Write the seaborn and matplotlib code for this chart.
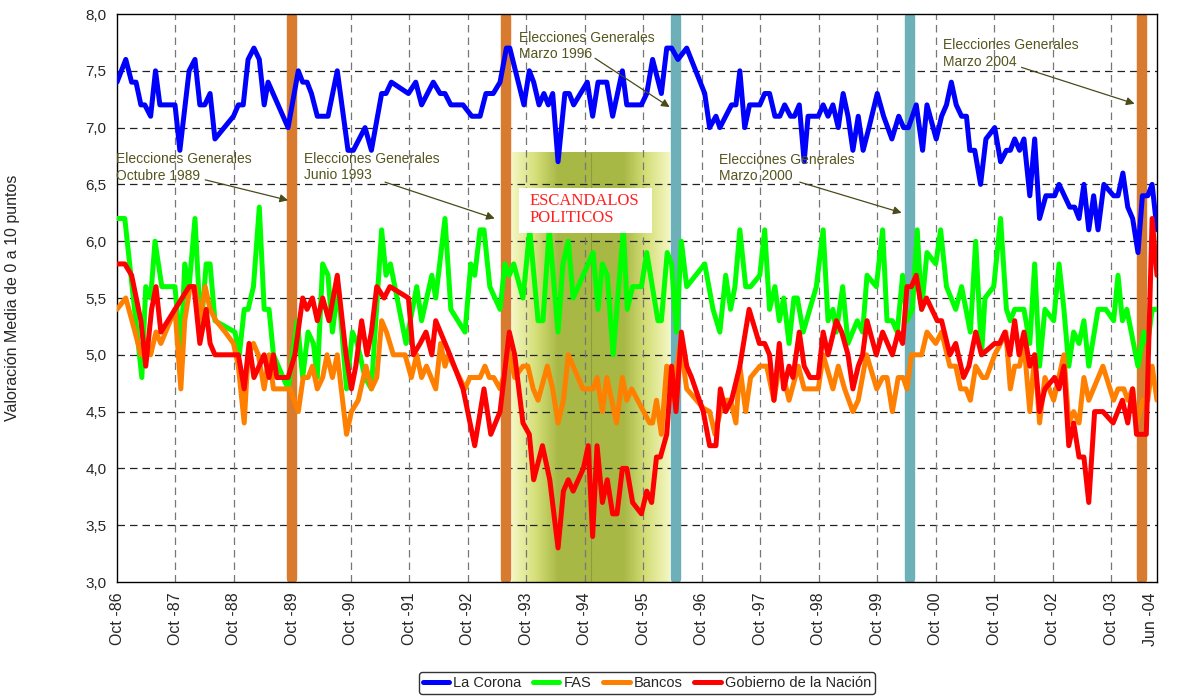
import numpy as np
import matplotlib
matplotlib.use("Agg")
import matplotlib.pyplot as plt
import seaborn as sns
from matplotlib.colors import LinearSegmentedColormap
from matplotlib.lines import Line2D
from matplotlib.patches import Rectangle

# ---------------- DATA (x = months since Oct-1986) ----------------
corona_m = [0.0, 1.8, 3.0, 3.9, 4.9, 5.7, 6.9, 7.9, 8.8, 11.9,
            12.9, 14.8, 16.0, 17.0, 18.0, 19.1, 20.1, 23.9, 24.9, 25.9,
            26.9, 28.1, 29.2, 30.2, 31.0, 35.1, 37.2, 38.1, 39.0, 39.9,
            41.1, 43.3, 45.2, 47.4, 48.5, 50.9, 52.2, 54.3, 55.2, 56.3,
            59.8, 61.3, 62.5, 64.9, 66.3, 67.3, 68.5, 71.0, 72.8, 74.5,
            75.7, 77.2, 78.6, 79.9, 80.6, 83.5, 84.6, 85.5, 86.6, 87.6,
            88.5, 89.4, 90.5, 91.9, 92.8, 93.7, 96.5, 97.6, 98.7, 100.5,
            101.7, 103.7, 104.6, 107.6, 108.7, 109.9, 111.7, 112.8, 113.8, 115.1,
            116.9, 120.6, 121.6, 122.9, 123.7, 126.1, 127.0, 127.8, 128.8, 129.8,
            131.9, 132.9, 133.9, 135.0, 136.0, 137.0, 138.2, 139.0, 140.0, 141.0,
            141.8, 143.9, 144.9, 145.9, 146.9, 148.0, 149.0, 150.0, 151.0, 152.1,
            153.1, 154.3, 156.0, 157.3, 159.0, 160.4, 161.4, 162.4, 164.0, 165.3,
            166.2, 168.1, 169.2, 170.2, 171.2, 172.2, 173.3, 174.3, 175.0, 176.0,
            177.2, 178.3, 180.1, 181.3, 182.5, 183.3, 184.2, 185.2, 186.1, 187.3,
            188.3, 189.3, 190.6, 192.4, 193.3, 195.5, 196.5, 197.4, 198.4, 199.4,
            200.4, 201.3, 202.5, 204.5, 205.4, 206.4, 207.4, 208.4, 209.5, 210.4,
            211.5, 212.4, 213.4]
corona_v = [7.4, 7.6, 7.4, 7.4, 7.2, 7.2, 7.1, 7.5, 7.2, 7.2,
            6.8, 7.5, 7.6, 7.2, 7.2, 7.3, 6.9, 7.1, 7.2, 7.2,
            7.6, 7.7, 7.6, 7.2, 7.4, 7.0, 7.5, 7.4, 7.4, 7.3,
            7.1, 7.1, 7.5, 6.8, 6.8, 7.0, 6.8, 7.3, 7.3, 7.4,
            7.3, 7.4, 7.2, 7.4, 7.3, 7.3, 7.2, 7.2, 7.1, 7.1,
            7.3, 7.3, 7.4, 7.7, 7.7, 7.2, 7.5, 7.4, 7.2, 7.3,
            7.2, 7.3, 6.7, 7.3, 7.3, 7.2, 7.4, 7.1, 7.4, 7.4,
            7.1, 7.5, 7.2, 7.2, 7.3, 7.6, 7.3, 7.7, 7.7, 7.6,
            7.7, 7.3, 7.0, 7.1, 7.0, 7.2, 7.2, 7.5, 7.0, 7.2,
            7.2, 7.3, 7.3, 7.1, 7.1, 7.2, 7.1, 7.1, 7.2, 6.7,
            7.1, 7.1, 7.2, 7.1, 7.2, 7.0, 7.3, 7.1, 6.8, 7.1,
            6.8, 7.0, 7.3, 7.1, 6.9, 7.1, 7.0, 7.0, 7.2, 6.8,
            7.2, 6.9, 7.1, 7.2, 7.4, 7.2, 7.1, 7.1, 6.8, 6.8,
            6.5, 6.9, 7.0, 6.7, 6.8, 6.8, 6.9, 6.8, 6.9, 6.4,
            6.9, 6.2, 6.4, 6.4, 6.5, 6.3, 6.3, 6.2, 6.5, 6.1,
            6.4, 6.1, 6.5, 6.4, 6.4, 6.6, 6.3, 6.2, 5.9, 6.4,
            6.4, 6.5, 6.1]

fas_m = [0.0, 1.6, 5.1, 5.9, 6.9, 7.8, 9.2, 11.9, 13.1, 13.9,
         14.8, 16.0, 17.2, 18.3, 19.1, 20.1, 24.2, 25.1, 26.1, 26.9,
         28.0, 29.2, 30.2, 31.2, 32.1, 35.1, 37.0, 38.1, 39.2, 40.3,
         41.1, 42.2, 43.3, 44.2, 45.4, 47.1, 48.3, 49.3, 50.9, 52.2,
         54.3, 55.2, 56.1, 59.3, 61.5, 62.5, 64.6, 65.4, 67.3, 68.5,
         71.4, 72.6, 73.4, 74.5, 75.3, 76.5, 78.6, 79.6, 80.5, 81.4,
         83.3, 84.7, 86.4, 87.4, 88.7, 90.5, 91.5, 92.6, 93.6, 97.7,
         98.7, 99.6, 100.6, 101.8, 103.9, 104.7, 105.8, 107.6, 108.7, 111.0,
         111.7, 112.9, 113.8, 114.8, 115.8, 116.9, 120.6, 122.3, 123.7, 124.9,
         125.9, 126.8, 127.8, 129.0, 130.0, 131.9, 132.9, 133.9, 135.0, 135.9,
         136.8, 137.9, 138.9, 139.6, 140.8, 143.5, 144.9, 145.9, 146.9, 147.6,
         148.9, 150.0, 151.9, 153.0, 153.9, 155.8, 157.1, 158.0, 159.1, 160.1,
         161.2, 162.1, 163.2, 164.2, 165.1, 166.2, 168.0, 169.0, 170.2, 172.1,
         173.3, 175.1, 176.2, 177.4, 178.1, 179.9, 181.3, 182.5, 183.3, 184.2,
         186.1, 187.3, 188.3, 189.3, 190.4, 192.2, 193.3, 194.3, 195.3, 196.3,
         197.4, 198.4, 199.4, 201.3, 202.9, 204.5, 205.4, 206.3, 207.2, 209.5,
         210.7, 211.5, 212.4, 213.4]
fas_v = [6.2, 6.2, 4.8, 5.6, 5.5, 6.0, 5.6, 5.6, 5.0, 5.8,
         5.6, 6.2, 5.2, 5.8, 5.8, 5.3, 5.2, 5.0, 5.4, 5.4,
         5.6, 6.3, 5.4, 5.4, 5.0, 4.7, 5.3, 4.8, 5.2, 5.1,
         4.8, 5.8, 5.7, 5.2, 5.6, 4.7, 5.2, 5.1, 4.8, 4.7,
         6.1, 5.7, 5.8, 5.1, 5.6, 5.3, 5.7, 5.5, 6.2, 5.4,
         5.2, 5.8, 5.7, 6.1, 6.1, 5.6, 5.4, 5.8, 5.7, 5.8,
         5.5, 6.1, 5.3, 5.3, 6.1, 5.2, 5.8, 6.0, 5.5, 5.9,
         5.4, 5.8, 5.7, 5.0, 6.1, 5.4, 5.6, 5.6, 5.9, 5.3,
         5.3, 5.9, 5.8, 5.2, 6.0, 5.6, 5.8, 5.4, 5.2, 5.7,
         5.4, 5.6, 6.1, 5.6, 5.6, 5.7, 6.1, 5.4, 5.6, 5.3,
         5.5, 5.1, 5.5, 5.5, 5.2, 5.6, 6.1, 5.3, 5.4, 5.2,
         5.6, 5.1, 5.3, 5.2, 5.7, 5.6, 6.1, 5.3, 5.3, 5.2,
         5.7, 5.3, 5.4, 6.1, 5.4, 5.9, 5.8, 6.1, 5.6, 5.4,
         5.6, 5.2, 6.0, 5.0, 5.5, 5.6, 6.2, 5.4, 5.3, 5.4,
         5.4, 5.1, 5.8, 4.9, 5.4, 5.3, 5.8, 5.4, 4.9, 5.2,
         5.1, 5.3, 4.9, 5.4, 5.4, 5.3, 5.7, 5.3, 5.4, 4.9,
         5.2, 5.1, 5.4, 5.4]

bancos_m = [0.0, 1.8, 3.7, 4.9, 6.1, 6.9, 8.0, 9.0, 11.9, 13.1,
            13.9, 15.0, 16.0, 17.0, 18.1, 19.1, 20.3, 22.2, 23.9, 24.9,
            26.1, 26.9, 28.0, 29.0, 30.2, 31.2, 32.1, 35.5, 37.2, 38.2,
            39.2, 40.1, 41.1, 42.2, 43.1, 44.2, 45.2, 47.1, 48.1, 49.5,
            51.1, 52.2, 53.3, 54.3, 55.3, 56.7, 59.1, 60.4, 61.5, 62.5,
            63.5, 65.4, 66.4, 67.3, 68.0, 71.4, 72.4, 74.5, 75.5, 76.4,
            77.3, 78.6, 80.6, 81.6, 83.3, 84.3, 85.4, 86.4, 88.3, 89.4,
            90.5, 91.6, 92.6, 95.6, 97.7, 98.5, 99.6, 100.5, 102.5, 103.7,
            104.6, 105.6, 109.3, 109.9, 110.7, 111.7, 112.8, 113.8, 115.6, 116.9,
            120.3, 121.6, 122.7, 123.8, 125.0, 125.9, 127.0, 127.8, 129.0, 130.0,
            131.9, 133.3, 134.8, 135.9, 136.8, 137.9, 139.8, 141.0, 143.9, 144.9,
            146.9, 148.0, 149.3, 151.0, 152.1, 153.8, 155.9, 157.1, 158.0, 159.1,
            160.3, 161.3, 162.1, 163.0, 165.1, 166.2, 168.0, 169.2, 170.9, 172.1,
            173.1, 174.2, 175.1, 176.2, 177.6, 178.4, 180.1, 181.3, 182.4, 183.3,
            184.2, 185.2, 186.1, 187.3, 188.3, 189.3, 190.4, 192.2, 194.3, 195.3,
            196.3, 197.4, 198.4, 199.4, 202.3, 204.5, 205.4, 206.6, 207.4, 208.4,
            209.2, 210.5, 211.5, 212.4, 213.4]
bancos_v = [5.4, 5.5, 5.2, 5.0, 5.1, 5.0, 5.2, 5.1, 5.4, 4.7,
            5.3, 5.6, 5.6, 5.3, 5.6, 5.4, 5.3, 5.2, 5.1, 4.9,
            4.4, 5.0, 5.1, 5.0, 4.7, 5.0, 4.7, 4.7, 4.5, 4.8,
            4.8, 4.9, 4.7, 4.8, 5.0, 4.8, 5.0, 4.3, 4.5, 4.6,
            4.9, 4.7, 4.8, 5.3, 5.2, 5.0, 5.0, 4.8, 5.0, 4.8,
            4.9, 4.7, 5.1, 4.9, 5.0, 4.7, 4.8, 4.8, 4.9, 4.8,
            4.8, 4.7, 5.0, 4.8, 4.9, 4.9, 4.7, 4.6, 4.9, 4.7,
            4.4, 4.6, 5.0, 4.7, 4.7, 4.8, 4.5, 4.8, 4.4, 4.8,
            4.6, 4.7, 4.4, 4.4, 4.6, 4.3, 4.9, 4.6, 5.1, 4.7,
            4.53, 4.5, 4.3, 4.5, 4.6, 4.6, 4.4, 4.9, 4.5, 4.8,
            4.9, 4.9, 4.6, 4.9, 4.8, 4.6, 4.9, 4.7, 4.7, 5.0,
            4.7, 4.9, 4.7, 4.5, 4.6, 5.0, 4.7, 4.8, 4.8, 4.5,
            4.8, 4.8, 4.7, 5.0, 5.0, 5.2, 5.1, 5.2, 4.9, 4.9,
            4.7, 4.7, 4.6, 4.9, 4.8, 4.8, 5.0, 5.1, 5.2, 4.7,
            4.9, 4.9, 5.1, 4.5, 5.0, 4.4, 4.8, 4.6, 5.0, 4.4,
            4.5, 4.4, 4.8, 4.6, 4.9, 4.6, 4.7, 4.7, 4.6, 4.7,
            4.4, 4.6, 4.6, 4.9, 4.6]

gobierno_m = [0.0, 1.6, 3.0, 4.9, 5.9, 7.1, 8.0, 9.0, 11.9, 14.8,
              15.8, 17.0, 18.3, 19.1, 20.1, 24.9, 26.1, 27.1, 28.1, 30.2,
              31.2, 32.1, 32.8, 35.1, 36.5, 38.1, 39.0, 40.1, 41.1, 42.2,
              43.5, 45.2, 47.0, 48.1, 49.0, 50.2, 51.3, 52.2, 53.3, 54.8,
              56.0, 57.9, 59.8, 60.8, 62.2, 63.4, 64.6, 65.4, 68.3, 71.0,
              73.4, 75.3, 76.7, 78.6, 80.5, 81.6, 83.3, 84.6, 85.5, 87.3,
              88.8, 90.5, 91.6, 92.6, 93.6, 95.7, 96.7, 97.6, 98.5, 99.6,
              100.6, 101.7, 102.6, 103.7, 104.6, 105.8, 107.6, 108.7, 109.7, 110.7,
              111.5, 112.8, 113.8, 114.7, 115.8, 116.9, 117.9, 120.3, 121.6, 122.9,
              123.8, 124.9, 126.1, 127.8, 129.7, 131.8, 132.9, 133.9, 134.8, 135.9,
              136.8, 137.9, 138.7, 140.0, 141.0, 142.2, 143.9, 144.9, 145.9, 147.6,
              148.7, 150.0, 151.0, 152.1, 153.0, 153.9, 155.8, 157.1, 159.1, 160.3,
              161.2, 162.1, 163.0, 164.0, 165.1, 166.1, 168.3, 169.2, 170.9, 172.1,
              173.7, 174.8, 176.2, 177.4, 180.1, 181.1, 182.2, 183.2, 184.2, 185.1,
              186.1, 187.3, 188.3, 189.3, 190.4, 191.4, 192.4, 193.3, 194.3, 195.3,
              196.3, 197.4, 198.4, 199.4, 200.6, 202.3, 204.4, 206.3, 207.4, 208.4,
              209.2, 211.2, 212.4, 213.4]
gobierno_v = [5.8, 5.8, 5.7, 5.3, 4.9, 5.4, 5.6, 5.2, 5.4, 5.6,
              5.6, 5.1, 5.4, 5.1, 5.0, 5.0, 4.7, 5.1, 4.8, 5.0,
              4.8, 5.0, 4.8, 4.8, 5.0, 5.5, 5.4, 5.5, 5.3, 5.5,
              5.3, 5.7, 5.0, 4.7, 4.9, 5.3, 5.0, 5.2, 5.6, 5.5,
              5.6, 5.55, 5.5, 5.0, 5.1, 5.2, 5.0, 5.3, 5.0, 4.7,
              4.2, 4.7, 4.3, 4.5, 5.2, 5.0, 4.4, 4.3, 3.9, 4.2,
              3.9, 3.3, 3.8, 3.9, 3.8, 4.0, 4.2, 3.4, 4.2, 3.7,
              3.9, 3.6, 3.6, 4.0, 4.0, 3.7, 3.6, 3.8, 3.7, 4.1,
              4.1, 4.3, 4.9, 4.5, 5.2, 4.9, 4.8, 4.5, 4.2, 4.2,
              4.7, 4.5, 4.6, 4.9, 5.4, 5.1, 5.1, 5.0, 4.6, 5.1,
              4.7, 4.9, 4.8, 5.2, 4.9, 4.8, 4.8, 5.2, 5.0, 5.3,
              5.2, 5.0, 4.7, 4.9, 5.0, 5.3, 5.0, 5.2, 5.0, 5.2,
              5.1, 5.6, 5.6, 5.7, 5.4, 5.5, 5.3, 5.3, 5.0, 5.1,
              4.8, 4.9, 5.2, 5.0, 5.1, 5.1, 5.2, 5.0, 5.3, 5.0,
              5.2, 4.9, 5.0, 4.5, 4.7, 4.75, 4.8, 4.7, 4.9, 4.2,
              4.4, 4.1, 4.1, 3.7, 4.5, 4.5, 4.4, 4.6, 4.4, 4.7,
              4.3, 4.3, 6.2, 5.7]

series_names = ["La Corona", "FAS", "Bancos", "Gobierno de la Nación"]
series_colors = ["#0000FF", "#00FF00", "#FF8000", "#FF0000"]

tick_months = [0, 12, 24, 36, 48, 60, 72, 84, 96, 108, 120, 132, 144,
               156, 168, 180, 192, 204, 212]
tick_labels = ["Oct -86", "Oct -87", "Oct -88", "Oct -89", "Oct -90", "Oct -91",
               "Oct -92", "Oct -93", "Oct -94", "Oct -95", "Oct -96", "Oct -97",
               "Oct -98", "Oct -99", "Oct -00", "Oct -01", "Oct -02", "Oct -03",
               "Jun -04"]

# Election markers (months since Oct-86) and colours
election_months = [35.9, 79.8, 114.7, 162.7, 210.3]
election_colors = ["#D87B2E", "#D87B2E", "#6DB0B8", "#6DB0B8", "#D87B2E"]

# Annotations: text, text anchor (month, value), arrow start, arrow end
ann_texts = ["Elecciones Generales\nOctubre 1989", "Elecciones Generales\nJunio 1993",
             "Elecciones Generales\nMarzo 1996", "Elecciones Generales\nMarzo 2000",
             "Elecciones Generales\nMarzo 2004"]
ann_text_pos = [(-0.2, 6.65), (38.4, 6.653), (82.5, 7.72), (123.5, 6.644), (169.4, 7.654)]
ann_arrow_from = [(18.1, 6.54), (55.0, 6.52), (98.1, 7.61), (140.1, 6.52), (185.6, 7.53)]
ann_arrow_to = [(35.1, 6.36), (77.5, 6.20), (113.4, 7.18), (161.0, 6.25), (208.8, 7.21)]

# Political scandal period
scandal_start, scandal_end, scandal_top = 81.0, 113.4, 6.78
scandal_label = "ESCANDALOS\nPOLITICOS"

# ---------------- PLOT ----------------
sns.set_style("white")
plt.rcParams["font.family"] = ["Liberation Sans", "DejaVu Sans"]

fig = plt.figure(figsize=(11.85, 6.97), dpi=100)
ax = fig.add_axes([117 / 1185, 1 - 582 / 697, (1157 - 117) / 1185, (582 - 14) / 697])

xmin, xmax, ymin, ymax = 0, 213.4, 3.0, 8.0

# scandal shaded gradient
n = 400
xs = np.linspace(0, 1, n)
prof = np.clip((1 - np.abs(xs - 0.5) * 2) * 1.7, 0, 1)
cmap = LinearSegmentedColormap.from_list("g", ["#F3F7C2", "#D6E07A", "#A8B845"])
ax.imshow(prof[np.newaxis, :], extent=[scandal_start, scandal_end, ymin, scandal_top],
          aspect="auto", cmap=cmap, vmin=0, vmax=1, zorder=0.5, interpolation="bilinear")
mid = (scandal_start + scandal_end) / 2
ax.plot([mid, mid], [ymin, scandal_top], color="#8F9B3C", lw=0.8, zorder=0.6)

# gridlines
for yv in np.arange(3.5, 8.0, 0.5):
    ax.axhline(yv, color="#222222", lw=0.9, ls=(0, (6, 4)), zorder=1)
for xv in tick_months[1:-1]:
    ax.axvline(xv, color="#777777", lw=0.9, ls=(0, (6, 4)), zorder=1)

# election bars
for em, ec in zip(election_months, election_colors):
    ax.plot([em, em], [ymin + 0.03, ymax - 0.03], color=ec, lw=7.5,
            solid_capstyle="round", zorder=2)

# series
all_m = [corona_m, fas_m, bancos_m, gobierno_m]
all_v = [corona_v, fas_v, bancos_v, gobierno_v]
for name, col, mm, vv in zip(series_names, series_colors, all_m, all_v):
    sns.lineplot(x=mm, y=vv, ax=ax, color=col, lw=3.6, sort=False,
                 estimator=None, legend=False, zorder=3)

# scandal label box
ax.add_patch(Rectangle((82.5, 6.07), 27.2, 0.40, facecolor="white",
                       edgecolor="none", zorder=4))
ax.text(84.7, 6.42, scandal_label, color="#FF2020", family="Liberation Serif",
        fontsize=12, va="top", ha="left", linespacing=1.05, zorder=5)

# annotations
for t, tp, af, at in zip(ann_texts, ann_text_pos, ann_arrow_from, ann_arrow_to):
    ax.text(tp[0], tp[1], t, color="#55551F", fontsize=10, va="center", ha="left",
            linespacing=1.22, zorder=5)
    ax.annotate("", xy=at, xytext=af,
                arrowprops=dict(arrowstyle="-|>", color="#4A4A1A", lw=0.9,
                                mutation_scale=12, shrinkA=0, shrinkB=0), zorder=5)

ax.set_xlim(xmin, xmax)
ax.set_ylim(ymin, ymax)
ax.set_yticks(np.arange(3.0, 8.01, 0.5))
ax.set_yticklabels([f"{v:.1f}".replace(".", ",") for v in np.arange(3.0, 8.01, 0.5)],
                   fontsize=11)
ax.set_xticks(tick_months)
ax.set_xticklabels(tick_labels, rotation=90, fontsize=11.5)
ax.tick_params(axis="both", length=4, width=0.8, direction="out", color="black")
ax.set_xlabel("")
ax.set_ylabel("Valoración Media de 0 a 10 puntos", fontsize=11.5)
ax.yaxis.set_label_coords(-0.093, 0.5)
for s in ax.spines.values():
    s.set_visible(True)
    s.set_color("black")
    s.set_linewidth(1.0)

handles = [Line2D([0], [0], color=c, lw=3.6, solid_capstyle="round") for c in series_colors]
leg = fig.legend(handles, series_names, loc="center", bbox_to_anchor=(647 / 1185, 1 - 683 / 697),
                 ncol=4, frameon=True, fancybox=True, edgecolor="black", fontsize=10.5,
                 handlelength=1.8, handletextpad=0.3, columnspacing=0.8,
                 borderpad=0.25, borderaxespad=0)
leg.get_frame().set_linewidth(1.0)

fig.savefig("out.png", dpi=100)
